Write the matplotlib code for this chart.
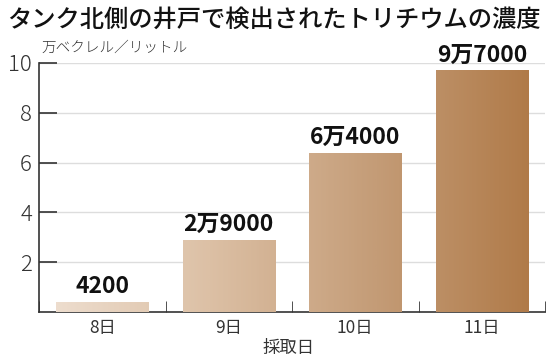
import numpy as np
import matplotlib.pyplot as plt
from matplotlib.colors import LinearSegmentedColormap

plt.rcParams['font.family'] = ['Noto Sans CJK JP', 'DejaVu Sans']

# data (単位: 万ベクレル/リットル)
days = ["8日", "9日", "10日", "11日"]
values = [0.42, 2.9, 6.4, 9.7]
value_labels = ["4200", "2万9000", "6万4000", "9万7000"]
y_ticks = [2, 4, 6, 8, 10]

fig = plt.figure(figsize=(5.55, 3.61), dpi=100)
ax = fig.add_axes([0.0703, 0.1357, 0.9117, 0.690])

x = np.arange(len(days))
bar_w = 0.73
bars = ax.bar(x, values, width=bar_w, color="none", zorder=3)

# horizontal gradient light beige -> brown across the whole chart
cmap = LinearSegmentedColormap.from_list("tan", ["#efe0d2", "#dcc0a5", "#c49c77", "#ae7744"])
x0, x1 = -0.5, len(days) - 0.5
for b in bars:
    left = b.get_x()
    right = left + b.get_width()
    g0 = (left - x0) / (x1 - x0)
    g1 = (right - x0) / (x1 - x0)
    seg = np.linspace(g0, g1, 64).reshape(1, -1)
    im = ax.imshow(seg, cmap=cmap, vmin=0, vmax=1, aspect="auto",
                   extent=[left, right, 0, b.get_height()], zorder=3)
    im.set_clip_path(b)

for xi, v, lab in zip(x, values, value_labels):
    ax.text(xi, v + 0.15, lab, ha="center", va="bottom", fontsize=16.5,
            fontweight="bold", color="#111111", zorder=4)

ax.set_xlim(x0, x1)
ax.set_ylim(0, 10)
ax.set_yticks(y_ticks)
ax.set_yticklabels([str(t) for t in y_ticks], fontsize=16, fontweight="light", color="#333333")
ax.yaxis.grid(True, color="#dddddd", linewidth=1)
ax.set_axisbelow(True)
ax.tick_params(axis="y", direction="in", length=13, width=1.2, color="#333333", pad=5)

ax.set_xticks(x)
ax.set_xticklabels(days, fontsize=12.5, color="#333333")
ax.set_xticks(np.arange(-0.5, len(days)), minor=True)
ax.tick_params(axis="x", which="major", length=0, pad=5)
ax.tick_params(axis="x", which="minor", direction="in", length=8, color="#333333")

for s in ["top", "right"]:
    ax.spines[s].set_visible(False)
for s in ["left", "bottom"]:
    ax.spines[s].set_color("#333333")
    ax.spines[s].set_linewidth(1.2)

fig.text(0.013, 0.980, "タンク北側の井戸で検出されたトリチウムの濃度", fontsize=17.5,
         fontweight="medium", va="top", ha="left", color="#111111")
fig.text(0.075, 0.868, "万ベクレル／リットル", fontsize=10.5, fontweight="light",
         va="center", ha="left", color="#333333")
fig.text(0.52, 0.036, "採取日", fontsize=12.5, va="center", ha="center", color="#333333")

fig.savefig("out.png", dpi=100)
